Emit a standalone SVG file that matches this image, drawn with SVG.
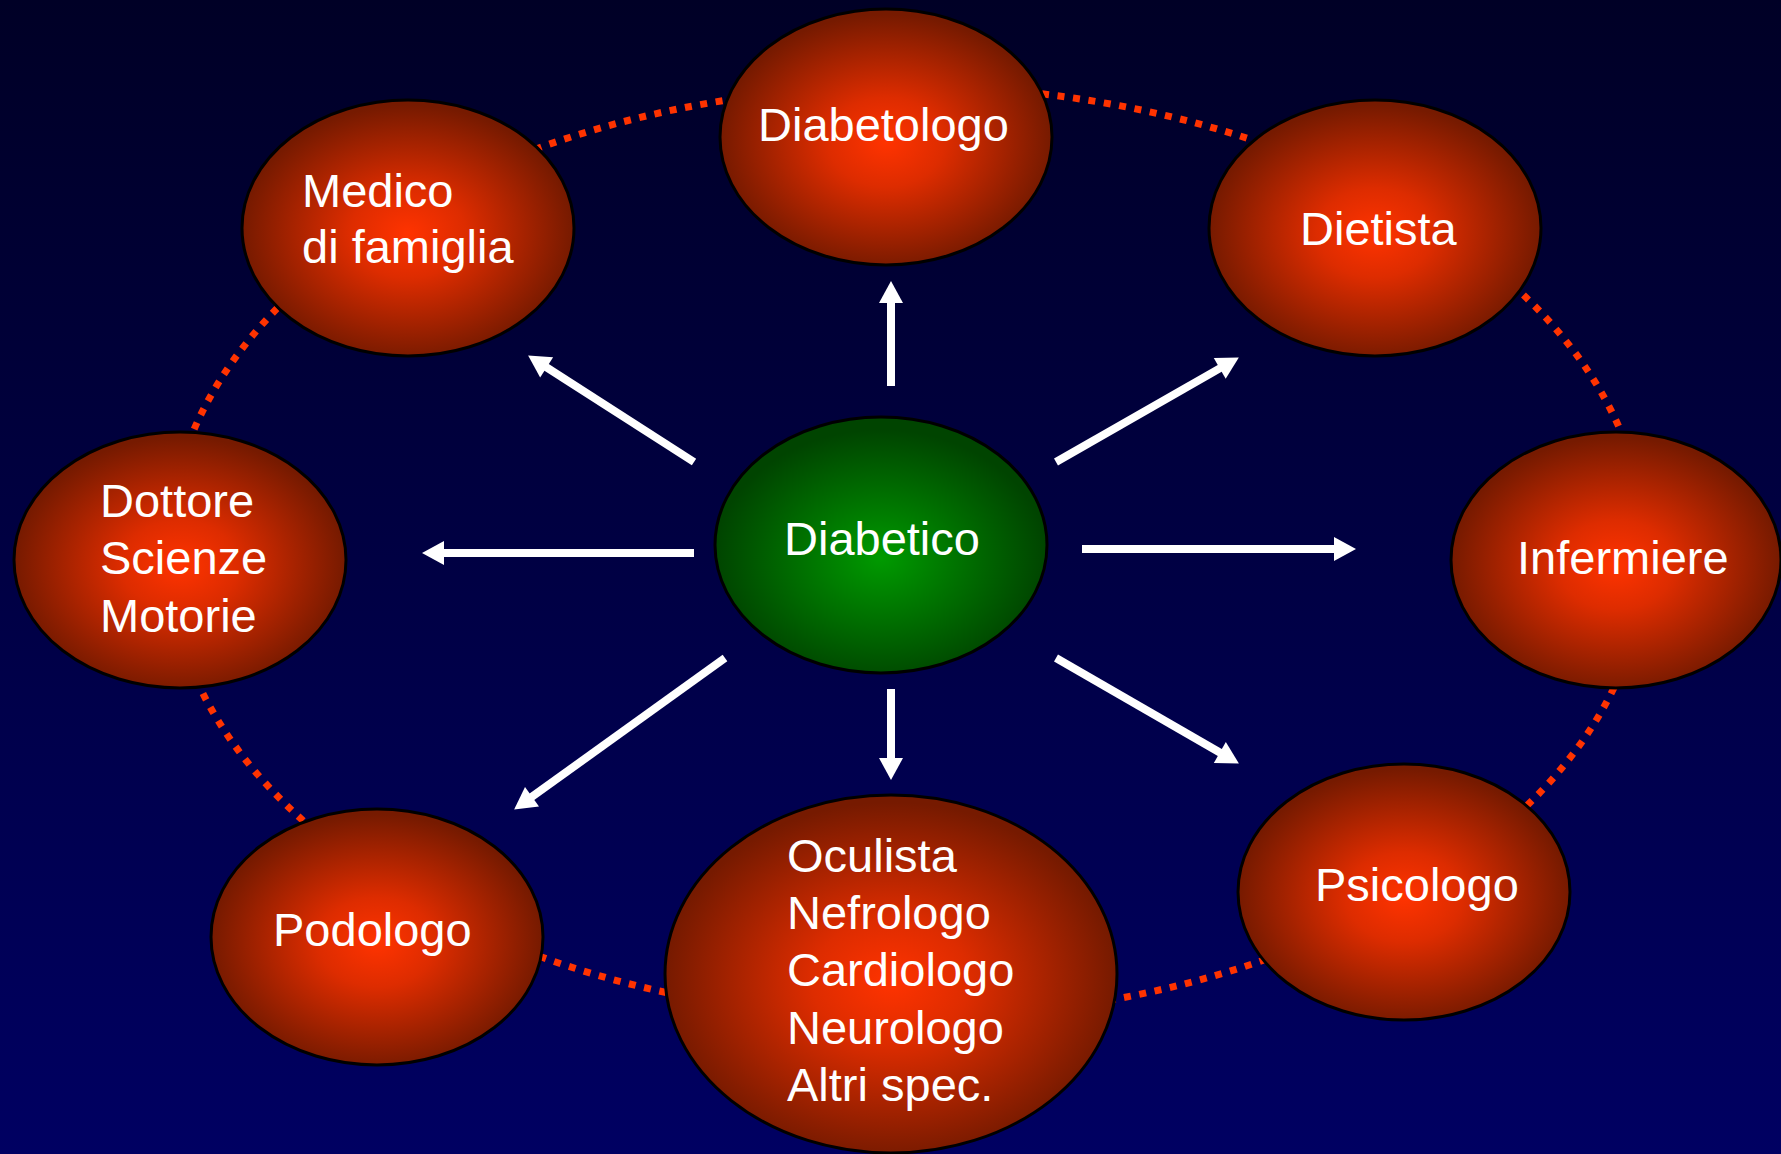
<svg xmlns="http://www.w3.org/2000/svg" width="1781" height="1154" viewBox="0 0 1781 1154">
<defs>
<linearGradient id="bg" x1="0" y1="0" x2="0" y2="1">
<stop offset="0" stop-color="#000026"/>
<stop offset="1" stop-color="#000062"/>
</linearGradient>
<radialGradient id="red" cx="0.5" cy="0.52" r="0.5">
<stop offset="0" stop-color="#ff3300"/>
<stop offset="0.35" stop-color="#dd2c00"/>
<stop offset="1" stop-color="#761a00"/>
</radialGradient>
<radialGradient id="green" cx="0.5" cy="0.55" r="0.5">
<stop offset="0" stop-color="#009a00"/>
<stop offset="1" stop-color="#004400"/>
</radialGradient>
<marker id="ah" markerUnits="userSpaceOnUse" markerWidth="26" markerHeight="26" refX="1" refY="12" orient="auto" overflow="visible">
<path d="M0,0 L22,12 L0,24 z" fill="#ffffff"/>
</marker>
<style>
.nr{fill:url(#red);stroke:#000;stroke-width:3}
.ng{fill:url(#green);stroke:#000;stroke-width:3}
.t{font-family:"Liberation Sans",Arial,sans-serif;font-size:47px;fill:#ffffff}
.ar{stroke:#ffffff;stroke-width:8;fill:none;marker-end:url(#ah)}
.ring{fill:none;stroke:#ff3300;stroke-width:7;stroke-dasharray:7 8.6}
</style>
</defs>
<rect x="0" y="0" width="1781" height="1154" fill="url(#bg)"/>
<ellipse class="ring" cx="907" cy="552" rx="739" ry="466"/>
<g id="connectors">
<line class="ar" x1="891" y1="386" x2="891" y2="302"/>
<line class="ar" x1="694" y1="462" x2="545.8" y2="366.8"/>
<line class="ar" x1="1056" y1="462" x2="1220.6" y2="367.9"/>
<line class="ar" x1="694" y1="553" x2="443" y2="553"/>
<line class="ar" x1="1082" y1="549" x2="1335" y2="549"/>
<line class="ar" x1="725" y1="658" x2="531.2" y2="797.3"/>
<line class="ar" x1="891" y1="689" x2="891" y2="759"/>
<line class="ar" x1="1056" y1="658" x2="1220.7" y2="753"/>
</g>
<g id="diabetologo">
<ellipse class="nr" cx="886" cy="137" rx="166" ry="128"/>
<text class="t" x="758" y="141">Diabetologo</text>
</g>
<g id="medico">
<ellipse class="nr" cx="408" cy="228" rx="166" ry="128"/>
<text class="t" x="302" y="207">Medico</text>
<text class="t" x="302" y="263">di famiglia</text>
</g>
<g id="dietista">
<ellipse class="nr" cx="1375" cy="228" rx="166" ry="128"/>
<text class="t" x="1300" y="245">Dietista</text>
</g>
<g id="dottore">
<ellipse class="nr" cx="180" cy="560" rx="166" ry="128"/>
<text class="t" x="100" y="517">Dottore</text>
<text class="t" x="100" y="574">Scienze</text>
<text class="t" x="100" y="632">Motorie</text>
</g>
<g id="diabetico">
<ellipse class="ng" cx="881" cy="545" rx="166" ry="128"/>
<text class="t" x="784" y="555">Diabetico</text>
</g>
<g id="infermiere">
<ellipse class="nr" cx="1616" cy="560" rx="165" ry="128"/>
<text class="t" x="1517" y="574">Infermiere</text>
</g>
<g id="podologo">
<ellipse class="nr" cx="377" cy="937" rx="166" ry="128"/>
<text class="t" x="273" y="946">Podologo</text>
</g>
<g id="specialisti">
<ellipse class="nr" cx="891" cy="974" rx="226" ry="179"/>
<text class="t" x="787" y="872">Oculista</text>
<text class="t" x="787" y="929">Nefrologo</text>
<text class="t" x="787" y="986">Cardiologo</text>
<text class="t" x="787" y="1044">Neurologo</text>
<text class="t" x="787" y="1101">Altri spec.</text>
</g>
<g id="psicologo">
<ellipse class="nr" cx="1404" cy="892" rx="166" ry="128"/>
<text class="t" x="1315" y="901">Psicologo</text>
</g>
</svg>
